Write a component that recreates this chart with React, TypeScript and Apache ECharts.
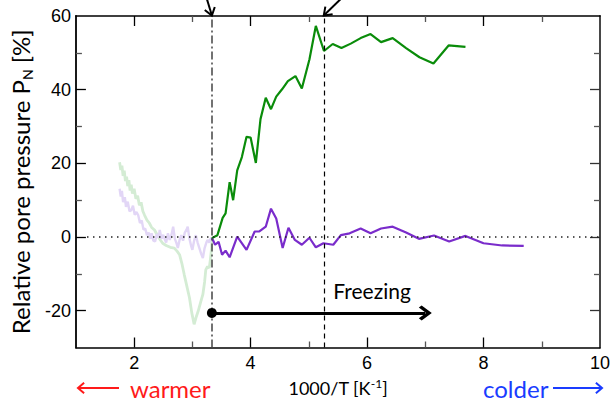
import React, { useEffect, useRef } from 'react';
import * as echarts from 'echarts';

const X_MIN = 1;
const X_MAX = 10;
const Y_MIN = -30;
const Y_MAX = 60;
const X_MAJOR_TICKS = [2, 4, 6, 8];
const X_MINOR_TICKS = [3, 5, 7, 9];
const X_LABELS = [2, 4, 6, 8, 10];
const Y_MAJOR_TICKS = [-20, 0, 20, 40];
const Y_MINOR_TICKS = [-10, 10, 30, 50];
const Y_LABELS = [-20, 0, 20, 40, 60];

const greenFaded: [number, number][] = [
  [1.75, 20.3], [1.77, 18.2], [1.79, 19.4], [1.81, 16.6], [1.83, 18.0], [1.85, 15.2], [1.87, 16.4],
  [1.89, 13.8], [1.91, 15.4], [1.93, 12.6], [1.95, 14.2], [1.97, 11.8], [2.0, 13.1], [2.03, 10.4],
  [2.06, 11.2], [2.09, 8.6], [2.12, 9.4], [2.15, 7.0], [2.18, 5.9], [2.22, 4.6], [2.26, 3.8],
  [2.3, 2.6], [2.35, 1.9], [2.4, 0.4], [2.45, -0.8], [2.49, -1.7], [2.55, -2.3], [2.62, -2.8],
  [2.69, -3.0], [2.74, -3.9], [2.78, -4.8], [2.82, -7.2], [2.86, -10.2], [2.9, -13.0], [2.95, -16.5],
  [2.99, -20.6], [3.03, -23.7], [3.06, -22.0], [3.1, -20.1], [3.14, -17.8], [3.18, -15.6], [3.21, -12.2],
  [3.23, -8.9], [3.26, -8.0], [3.29, -8.4], [3.31, -6.0], [3.33, -3.0], [3.335, -0.5],
];

const purpleFaded: [number, number][] = [
  [1.75, 13.1], [1.77, 11.0], [1.79, 12.5], [1.81, 9.5], [1.84, 10.8], [1.86, 8.2], [1.89, 9.6],
  [1.92, 7.0], [1.95, 7.3], [1.98, 8.5], [2.01, 6.0], [2.04, 6.8], [2.07, 5.9], [2.1, 3.8],
  [2.13, 4.5], [2.16, 2.0], [2.19, 2.3], [2.22, 0.5], [2.25, 1.2], [2.28, -0.5], [2.3, 1.0],
  [2.33, -1.0], [2.36, -1.2], [2.39, 0.8], [2.42, -0.2], [2.44, 1.9], [2.47, -0.5], [2.5, 0.6],
  [2.52, -0.4], [2.55, -1.5], [2.58, 1.0], [2.61, -0.8], [2.64, 0.5], [2.67, 2.8], [2.7, -0.5],
  [2.73, -1.8], [2.75, -3.0], [2.78, -0.8], [2.81, 0.5], [2.84, -1.0], [2.87, 1.2], [2.9, 2.0],
  [2.92, 2.8], [2.95, -0.5], [2.98, -2.5], [3.0, -3.5], [3.03, -1.0], [3.06, 0.5], [3.09, -1.5],
  [3.12, -3.0], [3.15, -4.5], [3.18, -5.7], [3.21, -3.0], [3.24, -1.5], [3.26, -0.8], [3.29, -1.5],
  [3.31, -0.5], [3.335, -0.2],
];

const greenMain: [number, number][] = [
  [3.335, -0.3], [3.43, 0.5], [3.52, 5.2], [3.57, 6.4], [3.64, 14.9], [3.7, 10.0], [3.77, 18.1],
  [3.85, 21.7], [3.93, 27.2], [4.0, 27.0], [4.09, 20.1], [4.17, 32.0], [4.26, 37.8], [4.35, 34.7],
  [4.44, 38.1], [4.54, 40.1], [4.64, 42.3], [4.77, 43.7], [4.88, 40.3], [5.01, 48.2], [5.12, 57.3],
  [5.26, 50.5], [5.41, 52.4], [5.56, 51.3], [5.72, 52.5], [5.89, 54.0], [6.06, 55.1], [6.24, 52.9],
  [6.44, 54.0], [6.67, 51.3], [6.9, 48.8], [7.14, 47.1], [7.4, 52.0], [7.69, 51.6],
];

const purpleMain: [number, number][] = [
  [3.335, -0.2], [3.39, -2.1], [3.45, -1.3], [3.51, -4.8], [3.57, -3.7], [3.64, -5.5], [3.77, 0.1],
  [3.93, -3.5], [4.07, 1.5], [4.15, 1.5], [4.26, 2.8], [4.35, 7.7], [4.44, 5.0], [4.55, -3.0],
  [4.65, 2.5], [4.76, -0.8], [4.88, -2.1], [5.01, -0.2], [5.12, -2.8], [5.25, -1.7], [5.42, -2.1],
  [5.55, 0.5], [5.7, 1.0], [5.89, 2.3], [6.06, 1.0], [6.24, 2.3], [6.44, 2.8], [6.67, 1.2],
  [6.89, -0.5], [7.15, 0.4], [7.41, -1.2], [7.69, 0.3], [8.0, -1.7], [8.32, -2.3], [8.69, -2.4],
];

const FREEZE_ONSET_X = 3.335;
const SECOND_MARK_X = 5.256;
const ZERO_LINE_START_X = 1.19;
const FREEZE_ARROW_Y = -20.6;
const FREEZE_ARROW_END_X = 7.0;
const FREEZE_TEXT_POS: [number, number] = [5.42, -14.6];

const SANS = 'Lato, "Open Sans", sans-serif';
const TICK_FONT = '"Liberation Sans", Arial, sans-serif';

const CHEVRON_UP = 'path://M10,0 L20,10 L17.3,12.8 L10,5.6 L2.7,12.8 L0,10 Z';

function head(tip: number[], from: number[], len = 9, ang = 0.62): number[][] {
  const dx = from[0] - tip[0];
  const dy = from[1] - tip[1];
  const d = Math.hypot(dx, dy) || 1;
  const ux = dx / d;
  const uy = dy / d;
  const rot = (a: number) => [
    tip[0] + len * (ux * Math.cos(a) - uy * Math.sin(a)),
    tip[1] + len * (ux * Math.sin(a) + uy * Math.cos(a)),
  ];
  return [rot(ang), tip, rot(-ang)];
}

function xAxisDef(position: 'top' | 'bottom', ticks: number[], len: number, main: boolean, labels: boolean): any {
  return {
    type: 'value',
    min: X_MIN,
    max: X_MAX,
    position,
    axisLine: { show: main, onZero: false, lineStyle: { color: '#000', width: 1.6 } },
    axisTick: { show: true, inside: true, length: len, customValues: ticks, lineStyle: { color: main ? '#000' : '#555', width: 1.3 } },
    axisLabel: labels
      ? { show: true, customValues: X_LABELS, fontSize: 18, color: '#000', fontFamily: TICK_FONT, margin: 6 }
      : { show: false },
    splitLine: { show: false },
  };
}

function yAxisDef(position: 'left' | 'right', ticks: number[], len: number, main: boolean, labels: boolean, lineColor: string): any {
  return {
    type: 'value',
    min: Y_MIN,
    max: Y_MAX,
    position,
    axisLine: { show: main, onZero: false, lineStyle: { color: lineColor, width: 1.8 } },
    axisTick: { show: true, inside: true, length: len, customValues: ticks, lineStyle: { color: main ? lineColor : '#555', width: 1.3 } },
    axisLabel: labels
      ? { show: true, customValues: Y_LABELS, fontSize: 18, color: '#000', fontFamily: TICK_FONT, margin: 5 }
      : { show: false },
    splitLine: { show: false },
  };
}

export default function App() {
  const ref = useRef<HTMLDivElement>(null);

  useEffect(() => {
    document.body.style.margin = '0';
    if (!ref.current) return;
    const chart = echarts.init(ref.current, undefined, { renderer: 'svg' });

    const xMain = xAxisDef('bottom', X_MAJOR_TICKS, 10, true, true);
    xMain.name = '1000/T [K{sup|-1}]';
    xMain.nameLocation = 'middle';
    xMain.nameGap = 30;
    xMain.nameTextStyle = {
      fontSize: 18,
      color: '#000',
      fontFamily: SANS,
      rich: { sup: { fontSize: 12, verticalAlign: 'top', padding: [0, 0, 9, 0], fontFamily: SANS, color: '#000' } },
    };

    const yMain = yAxisDef('left', Y_MAJOR_TICKS, 10, true, true, '#000');
    yMain.name = 'Relative pore pressure P{sub|N} [%]';
    yMain.nameLocation = 'middle';
    yMain.nameGap = 35;
    yMain.nameTextStyle = {
      fontSize: 24,
      color: '#000',
      fontFamily: SANS,
      rich: { sub: { fontSize: 14, verticalAlign: 'bottom', padding: [14, 0, 0, 0], fontFamily: SANS, color: '#000' } },
    };

    const option: any = {
      animation: false,
      grid: { left: 74, top: 16, right: 11, bottom: 52, containLabel: false },
      xAxis: [
        xMain,
        xAxisDef('bottom', X_MINOR_TICKS, 6, false, false),
        xAxisDef('top', X_MAJOR_TICKS, 10, true, false),
        xAxisDef('top', X_MINOR_TICKS, 6, false, false),
      ],
      yAxis: [
        yMain,
        yAxisDef('left', Y_MINOR_TICKS, 6, false, false, '#000'),
        yAxisDef('right', Y_MAJOR_TICKS, 10, true, false, '#333'),
        yAxisDef('right', Y_MINOR_TICKS, 6, false, false, '#333'),
      ],
      series: [
        {
          type: 'line',
          data: greenFaded,
          symbol: 'none',
          lineStyle: { color: '#d4ecd4', width: 2.8 },
          z: 1,
        },
        {
          type: 'line',
          data: purpleFaded,
          symbol: 'none',
          lineStyle: { color: '#e2d6f6', width: 2.4 },
          z: 1,
        },
        {
          type: 'line',
          data: purpleMain,
          symbol: 'none',
          lineStyle: { color: '#7a2ccb', width: 2.2 },
          z: 3,
        },
        {
          type: 'line',
          data: greenMain,
          symbol: 'none',
          lineStyle: { color: '#0a8c0a', width: 2.2 },
          z: 3,
          markLine: {
            silent: true,
            symbol: ['none', 'none'],
            label: { show: false },
            animation: false,
            data: [
              { xAxis: FREEZE_ONSET_X, lineStyle: { type: [8, 3, 2, 3], color: '#444', width: 1.5 } },
              { xAxis: SECOND_MARK_X, lineStyle: { type: [5, 4], color: '#000', width: 1.2 } },
              [
                { coord: [ZERO_LINE_START_X, 0], lineStyle: { type: [1.5, 4.5], color: '#222', width: 1.6 } },
                { coord: [X_MAX, 0] },
              ],
            ],
          },
        },
        {
          type: 'line',
          data: [],
          symbol: 'none',
          z: 4,
          markLine: {
            silent: true,
            label: { show: false },
            animation: false,
            lineStyle: { color: '#000', width: 3, type: 'solid' },
            data: [
              [
                { coord: [FREEZE_ONSET_X, FREEZE_ARROW_Y], symbol: 'circle', symbolSize: 10 },
                { coord: [FREEZE_ARROW_END_X, FREEZE_ARROW_Y], symbol: CHEVRON_UP, symbolSize: [15, 13] },
              ],
            ],
          },
        },
      ],
    };

    chart.setOption(option);

    const px = (p: number[]) => chart.convertToPixel({ xAxisIndex: 0, yAxisIndex: 0 }, p) as number[];
    const top1 = px([FREEZE_ONSET_X, Y_MAX]);
    const top2 = px([SECOND_MARK_X, Y_MAX]);
    const start1 = [top1[0] - 5, -1];
    const start2 = [top2[0] + 18, -2];
    const ft = px(FREEZE_TEXT_POS);
    const bottomY = 388;
    const arrowStyle = { stroke: '#000', lineWidth: 2, fill: 'none' };

    chart.setOption({
      graphic: [
        { type: 'line', shape: { x1: start1[0], y1: start1[1], x2: top1[0], y2: top1[1] - 0.5 }, style: arrowStyle, z: 100 },
        { type: 'polyline', shape: { points: head([top1[0], top1[1] - 0.5], start1) }, style: arrowStyle, z: 100 },
        { type: 'line', shape: { x1: start2[0], y1: start2[1], x2: top2[0], y2: top2[1] - 0.5 }, style: arrowStyle, z: 100 },
        { type: 'polyline', shape: { points: head([top2[0], top2[1] - 0.5], start2) }, style: arrowStyle, z: 100 },
        {
          type: 'text',
          x: ft[0],
          y: ft[1],
          style: { text: 'Freezing', fill: '#000', fontSize: 21, fontFamily: SANS, align: 'left', verticalAlign: 'middle' },
          z: 100,
        },
        { type: 'line', shape: { x1: 119, y1: bottomY, x2: 79, y2: bottomY }, style: { stroke: '#ff1a1a', lineWidth: 2 } },
        { type: 'polyline', shape: { points: head([78, bottomY], [119, bottomY], 8, 0.7) }, style: { stroke: '#ff1a1a', lineWidth: 2, fill: 'none' } },
        {
          type: 'text',
          x: 130,
          y: bottomY,
          style: { text: 'warmer', fill: '#ff1a1a', fontSize: 24, fontFamily: SANS, align: 'left', verticalAlign: 'middle' },
        },
        {
          type: 'text',
          x: 483,
          y: bottomY,
          style: { text: 'colder', fill: '#1a3cff', fontSize: 24, fontFamily: SANS, align: 'left', verticalAlign: 'middle' },
        },
        { type: 'line', shape: { x1: 553, y1: bottomY, x2: 601, y2: bottomY }, style: { stroke: '#1a3cff', lineWidth: 2 } },
        { type: 'polyline', shape: { points: head([602, bottomY], [553, bottomY], 8, 0.7) }, style: { stroke: '#1a3cff', lineWidth: 2, fill: 'none' } },
      ],
    });

    return () => chart.dispose();
  }, []);

  return <div ref={ref} style={{ width: 613, height: 402 }} />;
}
